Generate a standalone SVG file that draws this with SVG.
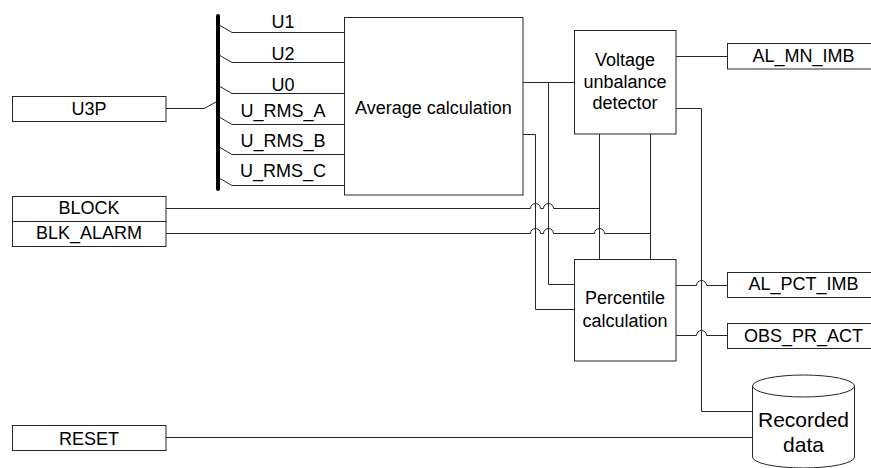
<svg xmlns="http://www.w3.org/2000/svg" width="871" height="468" viewBox="0 0 871 468">
<style>
  .box { fill: #ffffff; stroke: #262626; stroke-width: 1; }
  .wire { fill: none; stroke: #262626; stroke-width: 1; }
  .bus { fill: none; stroke: #000000; stroke-width: 4; stroke-linecap: round; }
  text { font-family: "Liberation Sans", Arial, sans-serif; fill: #000000; text-anchor: middle; }
  .lbl { font-size: 18px; }
  .big { font-size: 18px; }
  .db { font-size: 21px; }
</style>
<rect x="0" y="0" width="871" height="468" fill="#ffffff"/>

<g id="connectors">
  <path class="wire" d="M166 108.5 H204 L216 102"/>
  <path class="wire" d="M220 25.5 L232 32.5 H344"/>
  <path class="wire" d="M220 55.5 L232 62.5 H344"/>
  <path class="wire" d="M220 86.5 L232 93.5 H344"/>
  <path class="wire" d="M220 117.5 L232 124.5 H344"/>
  <path class="wire" d="M220 147.5 L232 154.5 H344"/>
  <path class="wire" d="M220 178.5 L232 185.5 H344"/>
  <path class="wire" d="M166 208.5 H530.5 A5 5 0 0 1 540.5 208.5 H543.5 A5 5 0 0 1 553.5 208.5 H599.5"/>
  <path class="wire" d="M166 233.5 H530.5 A5 5 0 0 1 540.5 233.5 H543.5 A5 5 0 0 1 553.5 233.5 H594.5 A5 5 0 0 1 604.5 233.5 H650.5"/>
  <path class="wire" d="M166 437.5 H752.5"/>
  <path class="wire" d="M523 82.5 H574"/>
  <path class="wire" d="M548.5 82.5 V284.5 H574"/>
  <path class="wire" d="M523 134.5 H535.5 V309.5 H574"/>
  <path class="wire" d="M676 56.5 H728"/>
  <path class="wire" d="M676 108.5 H701.5 V411.5 H752.5"/>
  <path class="wire" d="M599.5 134 V259.5"/>
  <path class="wire" d="M650.5 134 V259.5"/>
  <path class="wire" d="M676 285.5 H696.5 A5 5 0 0 1 706.5 285.5 H727.5"/>
  <path class="wire" d="M676 335.5 H696.5 A5 5 0 0 1 706.5 335.5 H727.5"/>
</g>

<g id="bus">
  <line class="bus" x1="218" y1="16" x2="218" y2="189"/>
  <text class="lbl" x="283" y="28.3">U1</text>
  <text class="lbl" x="283" y="60">U2</text>
  <text class="lbl" x="283" y="90.7">U0</text>
  <text class="lbl" x="283" y="116.7">U_RMS_A</text>
  <text class="lbl" x="283" y="146.7">U_RMS_B</text>
  <text class="lbl" x="283" y="177.3">U_RMS_C</text>
</g>

<g id="U3P">
  <rect class="box" x="12.5" y="96.5" width="153.5" height="25"/>
  <text class="lbl" x="89" y="114.5">U3P</text>
</g>
<g id="BLOCK">
  <rect class="box" x="12.5" y="196.5" width="153.5" height="25"/>
  <text class="lbl" x="89" y="213.5">BLOCK</text>
</g>
<g id="BLK_ALARM">
  <rect class="box" x="12.5" y="221.5" width="153.5" height="25"/>
  <text class="lbl" x="89" y="238.5">BLK_ALARM</text>
</g>
<g id="RESET">
  <rect class="box" x="12.5" y="425.5" width="153.5" height="25"/>
  <text class="lbl" x="89" y="444.5">RESET</text>
</g>

<g id="average">
  <rect class="box" x="344.5" y="17.5" width="178.5" height="177.5"/>
  <text class="big" x="433.5" y="113.5">Average calculation</text>
</g>

<g id="voltage">
  <rect class="box" x="574.5" y="30.5" width="101.5" height="103.5"/>
  <text class="big" x="625" y="66">Voltage</text>
  <text class="big" x="625" y="87.5">unbalance</text>
  <text class="big" x="625" y="109">detector</text>
</g>

<g id="percentile">
  <rect class="box" x="574.5" y="259.5" width="101.5" height="101.5"/>
  <text class="big" x="625" y="304.3">Percentile</text>
  <text class="big" x="625" y="326.7">calculation</text>
</g>

<g id="AL_MN_IMB">
  <rect class="box" x="727.5" y="43.5" width="152" height="25.5"/>
  <text class="lbl" x="803.5" y="62">AL_MN_IMB</text>
</g>
<g id="AL_PCT_IMB">
  <rect class="box" x="727.5" y="272.5" width="152" height="25"/>
  <text class="lbl" x="803.5" y="289.5">AL_PCT_IMB</text>
</g>
<g id="OBS_PR_ACT">
  <rect class="box" x="727.5" y="323.5" width="152" height="25"/>
  <text class="lbl" x="803.5" y="341.5">OBS_PR_ACT</text>
</g>

<g id="recorded">
  <path class="box" d="M752.5 386 A51 11 0 0 1 854.5 386 V457 A51 11 0 0 1 752.5 457 Z"/>
  <path class="wire" d="M752.5 386 A51 11 0 0 0 854.5 386"/>
  <text class="db" x="803.5" y="426.5">Recorded</text>
  <text class="db" x="803.5" y="451.5">data</text>
</g>
</svg>
